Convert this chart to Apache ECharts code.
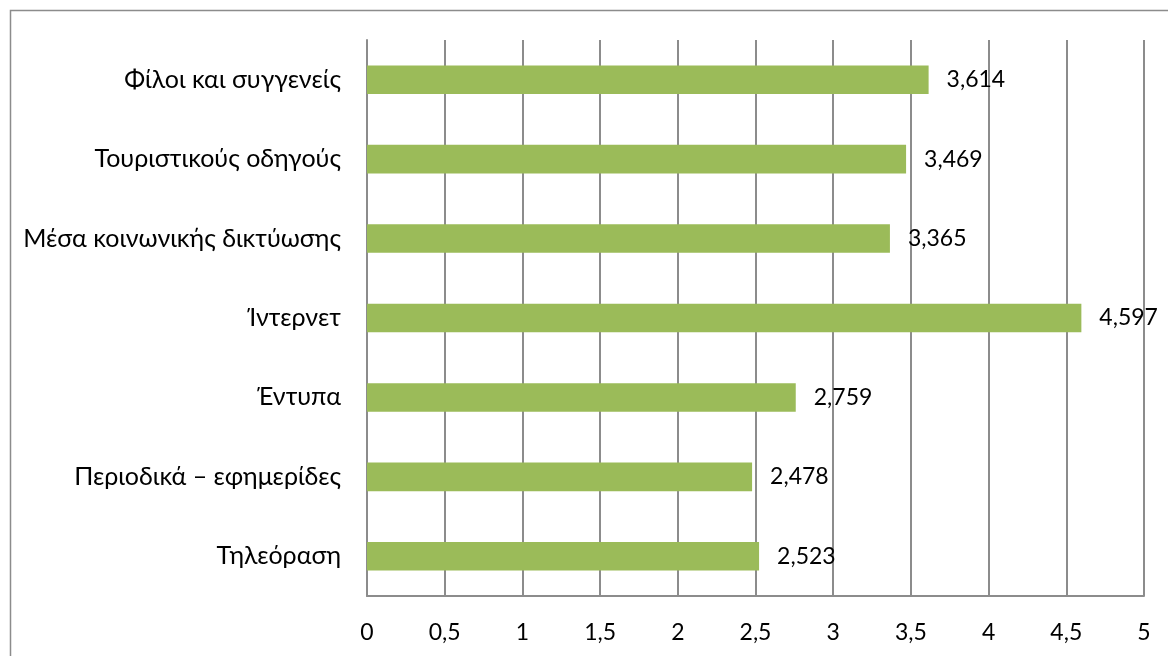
<!DOCTYPE html>
<html>
<head>
<meta charset="utf-8">
<script src="https://cdn.jsdelivr.net/npm/echarts@6/dist/echarts.min.js"></script>
<style>
  html, body { margin: 0; padding: 0; background: #fff; }
  #chart { width: 1168px; height: 656px; }
</style>
</head>
<body>
<div id="chart"></div>
<script>
// Information sources, bottom to top as drawn on the category axis
const categories = [
  'Τηλεόραση',
  'Περιοδικά – εφημερίδες',
  'Έντυπα',
  'Ίντερνετ',
  'Μέσα κοινωνικής δικτύωσης',
  'Τουριστικούς οδηγούς',
  'Φίλοι και συγγενείς'
];
const values = [2.523, 2.478, 2.759, 4.597, 3.365, 3.469, 3.614];

const fmt = v => String(v).replace('.', ',');
const FONT = 'Lato, "Open Sans", sans-serif';

const chart = echarts.init(document.getElementById('chart'));
chart.setOption({
  animation: false,
  backgroundColor: '#fff',
  graphic: [{
    type: 'rect',
    shape: { x: 10.5, y: 10.5, width: 1180, height: 680 },
    style: { fill: 'none', stroke: '#8c8c8c', lineWidth: 1.5 },
    silent: true
  }],
  grid: { left: 367, right: 24, top: 40, bottom: 60, containLabel: false },
  xAxis: {
    type: 'value',
    min: 0, max: 5, interval: 0.5,
    axisLine: { show: true, lineStyle: { color: '#8c8c8c', width: 2 } },
    axisTick: { show: false },
    splitLine: { show: true, lineStyle: { color: '#8c8c8c', width: 2 } },
    axisLabel: {
      formatter: fmt, color: '#000', fontFamily: FONT, fontSize: 23, margin: 25
    }
  },
  yAxis: {
    type: 'category',
    data: categories,
    axisLine: { show: true, lineStyle: { color: '#8c8c8c', width: 2 } },
    axisTick: { show: false },
    axisLabel: { color: '#000', fontFamily: FONT, fontSize: 25, margin: 26 }
  },
  series: [{
    type: 'bar',
    data: values,
    barWidth: '36%',
    itemStyle: { color: '#9BBB59' },
    label: {
      show: true, position: 'right', distance: 18,
      formatter: p => fmt(p.value),
      color: '#000', fontFamily: FONT, fontSize: 23
    }
  }]
});
</script>
</body>
</html>
